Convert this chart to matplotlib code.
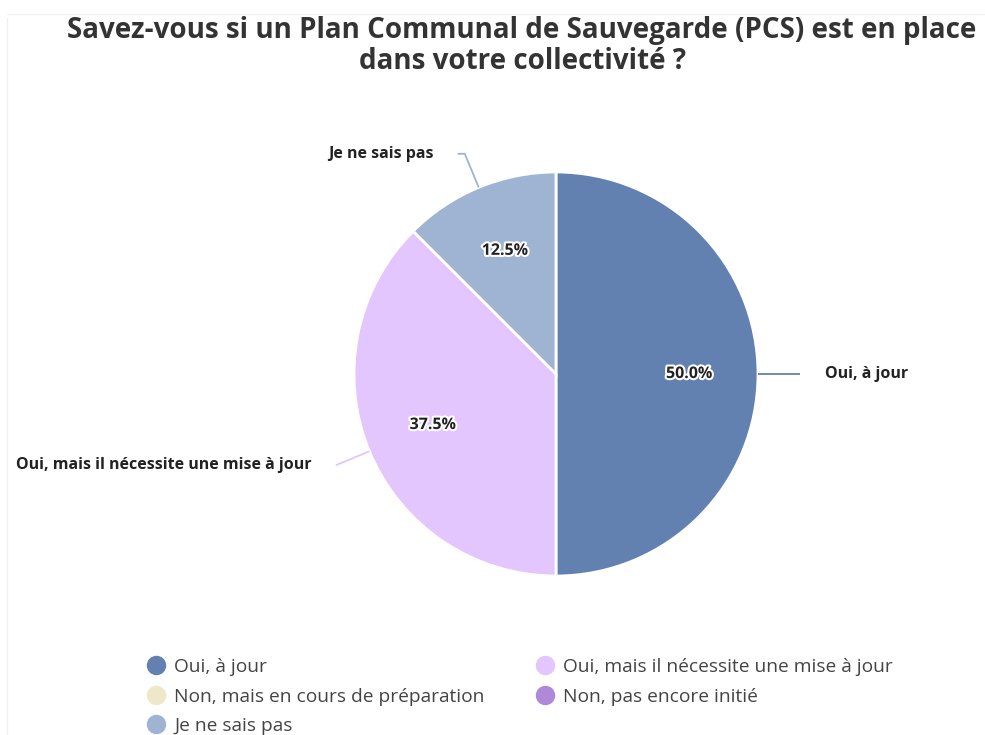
import numpy as np
import matplotlib.pyplot as plt
import matplotlib.patheffects as pe
from matplotlib.lines import Line2D

plt.rcParams['font.family'] = ['Open Sans', 'DejaVu Sans']

# data
categories = ["Oui, à jour",
              "Oui, mais il nécessite une mise à jour",
              "Non, mais en cours de préparation",
              "Non, pas encore initié",
              "Je ne sais pas"]
values = [50.0, 37.5, 0.0, 0.0, 12.5]
colors = ["#6281b0", "#e2c6fd", "#eee8c8", "#b088d8", "#9fb3d3"]
title = "Savez-vous si un Plan Communal de Sauvegarde (PCS) est en place\ndans votre collectivité ?"

W, H = 985, 735
fig = plt.figure(figsize=(W / 100, H / 100), dpi=100)

# axes covering the whole figure, 1 data unit = pie radius in px
cx, cy, R = 556, 374, 202
ax = fig.add_axes([0, 0, 1, 1])

# only the non-empty slices are drawn
idx = [i for i, v in enumerate(values) if v > 0]
wedges, _, autotexts = ax.pie([values[i] for i in idx],
                              colors=[colors[i] for i in idx],
                              startangle=90, counterclock=False,
                              autopct="%.1f%%", pctdistance=0.66,
                              wedgeprops=dict(edgecolor="white", linewidth=2),
                              textprops=dict(fontsize=11.5, fontweight="bold", color="#222222"))
for t in autotexts:
    t.set_path_effects([pe.withStroke(linewidth=3, foreground="white")])

ax.set_aspect("auto")
ax.set_xlim(-cx / R, (W - cx) / R)
ax.set_ylim(-(H - cy) / R, cy / R)
ax.axis("off")

# outside labels with leader lines
for w, i in zip(wedges, idx):
    ang = np.deg2rad((w.theta1 + w.theta2) / 2)
    x0, y0 = np.cos(ang), np.sin(ang)
    x1, y1 = 1.18 * x0, 1.18 * y0
    side = 1 if x0 > 0 else -1
    if abs(y0) < 0.05:
        pts_x, pts_y = [x0, x1 + 0.03], [y0, y1]
    elif x0 < -0.5:
        pts_x, pts_y = [x0, x1], [y0, y1]
    else:
        pts_x, pts_y = [x0, x1, x1 + side * 0.035], [y0, y1, y1]
    ax.plot(pts_x, pts_y, color=colors[i], lw=1.3, solid_capstyle="butt")
    ax.text(pts_x[-1] + side * 0.12, pts_y[-1], categories[i],
            ha="left" if side > 0 else "right", va="center",
            fontsize=11.5, fontweight="bold", color="#222222")

fig.text(0.53, 0.978, title, ha="center", va="top", fontsize=20,
         fontweight="bold", color="#333333", linespacing=1.1)

# faint frame lines of the original card
fig.add_artist(Line2D([7 / W, 7 / W], [0, 1 - 18 / H], color="#f0f0f0", lw=1))
fig.add_artist(Line2D([7 / W, 1], [1 - 14 / H, 1 - 14 / H], color="#f4f4f4", lw=1))

# legend, row-major order
handles = [Line2D([], [], marker="o", ls="", markersize=13,
                  markerfacecolor=c, markeredgecolor=c) for c in colors]
order = [0, 2, 4, 1, 3]
fig.legend([handles[k] for k in order], [categories[k] for k in order],
           ncol=2, loc="upper left", bbox_to_anchor=(0.135, 0.123),
           frameon=False, fontsize=13.8, handletextpad=0.45,
           columnspacing=2.65, labelspacing=0.6, labelcolor="#444444",
           handlelength=1.0, borderpad=0.2)

fig.savefig("out.png", dpi=100)
